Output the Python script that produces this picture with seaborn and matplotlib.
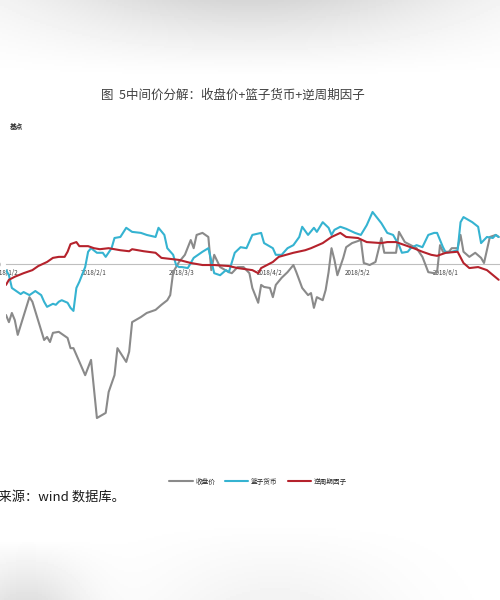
import numpy as np
import pandas as pd
import matplotlib
matplotlib.use("Agg")
import matplotlib.pyplot as plt
import matplotlib.dates as mdates
import seaborn as sns

# data: days since 2018-01-02, value in basis points
start = "2018-01-02"

close_days = [0, 1, 2, 3, 4, 8, 9, 13, 14, 15, 16, 18, 19, 21, 22, 23, 27, 29, 31, 34,
              35, 37, 38, 41, 42, 43, 46, 48, 51, 53, 55, 56, 57, 59, 61, 63, 64, 65, 67, 69,
              70, 71, 73, 76, 77, 79, 81, 83, 84, 86, 87, 88, 90, 91, 92, 94, 96, 98, 99, 101,
              103, 104, 105, 106, 108, 109, 110, 111, 112, 113, 115, 116, 118, 121, 122, 124, 126, 128, 129, 133,
              134, 136, 138, 140, 142, 144, 146, 147, 148, 149, 151, 152, 154, 155, 156, 158, 160, 162, 163, 165,
              167, 168]
close_vals = [-100, -114, -96, -110, -139, -65, -74, -149, -143, -153, -135, -133, -137, -145, -165, -165, -218, -188, -302, -292,
              -251, -218, -165, -192, -172, -114, -104, -96, -90, -80, -71, -61, -16, 4, 18, 47, 31, 57, 61, 53,
              -12, 18, -6, -16, -18, -6, -6, -18, -47, -76, -41, -45, -47, -65, -41, -27, -16, -2, -16, -47,
              -61, -57, -86, -65, -71, -51, -16, 31, 8, -22, 12, 33, 41, 47, 2, -2, 4, 51, 22, 22,
              63, 43, 37, 31, 14, -16, -18, -16, 37, 24, 24, 31, 31, 57, 24, 14, 22, 12, 2, 53,
              57, 53]

basket_days = [0, 1, 2, 4, 5, 6, 8, 10, 12, 13, 14, 16, 17, 18, 19, 21, 22, 23, 24, 25,
               27, 28, 29, 31, 33, 34, 36, 37, 39, 41, 43, 46, 48, 51, 52, 54, 55, 57, 58, 59,
               60, 62, 64, 67, 69, 71, 73, 75, 76, 78, 80, 82, 84, 87, 88, 91, 92, 94, 96, 98,
               100, 101, 103, 105, 106, 108, 110, 111, 112, 114, 116, 119, 121, 123, 125, 128, 130, 132, 134, 135,
               137, 138, 140, 142, 144, 146, 147, 149, 150, 152, 154, 155, 156, 159, 161, 162, 164, 166, 167, 168]
basket_vals = [-12, -22, -47, -55, -59, -55, -61, -53, -61, -74, -84, -78, -80, -74, -71, -76, -86, -92, -47, -35,
               -6, 24, 31, 22, 22, 14, 31, 51, 53, 71, 63, 61, 57, 53, 71, 57, 31, 18, -2, -6,
               -6, -8, 12, 24, 31, -18, -22, -12, -16, 22, 33, 31, 57, 61, 41, 31, 18, 18, 31, 37,
               53, 73, 57, 71, 63, 82, 71, 57, 67, 73, 69, 61, 57, 76, 102, 80, 61, 57, 37, 22,
               24, 31, 37, 33, 57, 61, 61, 33, 22, 24, 27, 82, 92, 82, 73, 41, 53, 51, 57, 53]

ccf_days = [0, 1, 3, 6, 9, 11, 14, 16, 18, 20, 21, 22, 24, 25, 28, 30, 32, 35, 39, 42,
            43, 47, 51, 53, 56, 59, 63, 67, 71, 76, 79, 84, 86, 87, 91, 93, 98, 102, 104, 108,
            111, 114, 116, 120, 123, 128, 130, 133, 135, 139, 142, 145, 147, 150, 154, 156, 158, 161, 164, 168]
ccf_vals = [-41, -31, -25, -18, -12, -4, 4, 12, 14, 14, 24, 39, 43, 35, 35, 31, 29, 31, 27, 25,
            29, 25, 22, 12, 10, 8, 2, -2, -2, -4, -8, -12, -18, -8, 4, 14, 22, 27, 31, 41,
            53, 61, 53, 51, 43, 41, 43, 43, 39, 31, 24, 18, 16, 22, 24, 2, -8, -6, -12, -31]

tick_dates = ["2018-01-02", "2018-02-01", "2018-03-03", "2018-04-02", "2018-05-02", "2018-06-01"]
series_names = ["收盘价", "篮子货币", "逆周期因子"]
series_colors = ["#8a8a8a", "#35b3d1", "#b5222c"]

t0 = pd.Timestamp(start)
frames = []
for name, days, vals in zip(series_names,
                            [close_days, basket_days, ccf_days],
                            [close_vals, basket_vals, ccf_vals]):
    frames.append(pd.DataFrame({"date": t0 + pd.to_timedelta(days, unit="D"),
                                "value": vals, "series": name}))
df = pd.concat(frames, ignore_index=True)

sns.set_style("white")
plt.rcParams["font.family"] = ["Noto Sans CJK SC", "DejaVu Sans"]

W, H = 500, 600
fig = plt.figure(figsize=(W / 100, H / 100), dpi=100)

# faded grey bands of the screenshot (top and bottom)
bg = fig.add_axes([0, 0, 1, 1], zorder=-5)
yy = np.linspace(0, 1, 300)[:, None]
xx = np.linspace(0, 1, 250)[None, :]
top = np.clip((0.13 - yy) / 0.13, 0, 1) ** 1.3 * (0.16 * np.exp(-((xx - 0.5) / 0.45) ** 2))
bot = np.clip((yy - 0.87) / 0.13, 0, 1) * 0.05 * np.exp(-((xx - 0.55) / 0.25) ** 2)
bot += np.clip((yy - 0.9) / 0.1, 0, 1) * 0.12 * np.exp(-((xx - 0.05) / 0.12) ** 2)
shade = 1 - top - bot
bg.imshow(shade, cmap="gray", vmin=0, vmax=1, aspect="auto", extent=[0, 1, 1, 0])
bg.set_axis_off()

# plot area: 2018-01-02 at x=6px, 51px per 100bp, zero at y=264px
ax = fig.add_axes([6 / W, 1 - 468 / H, 522 / W, 357 / H])
ax.patch.set_alpha(0)
sns.lineplot(data=df, x="date", y="value", hue="series", hue_order=series_names,
             palette=series_colors, estimator=None, sort=False, linewidth=1.5, ax=ax)

ax.set_xlim(t0, t0 + pd.Timedelta(days=178))
ax.set_ylim(-400, 300)
ax.set_yticks(np.arange(-400, 301, 100))
ax.tick_params(axis="y", labelsize=5, length=0, pad=4, labelcolor="#8c8c8c")
ax.set_xticks(pd.to_datetime(tick_dates))
ax.xaxis.set_major_formatter(mdates.DateFormatter("%Y/%-m/%-d"))
ax.tick_params(axis="x", labelsize=4.5, length=2, width=0.6, color="#bfbfbf",
               labelcolor="#404040", pad=1.5)
ax.set_xlabel("")
ax.set_ylabel("")
for s in ["left", "right", "top"]:
    ax.spines[s].set_visible(False)
ax.spines["bottom"].set_position(("data", 0))
ax.spines["bottom"].set_color("#bfbfbf")
ax.spines["bottom"].set_linewidth(0.8)
ax.spines["bottom"].set_zorder(0)

ax.legend(loc="upper center", bbox_to_anchor=(252 / 522, -0.01), ncol=3, frameon=False,
          fontsize=4.8, handlelength=3.5, columnspacing=1.5, handletextpad=0.4)

fig.text(233 / W, 1 - 95 / H, "图  5中间价分解：收盘价+篮子货币+逆周期因子",
         ha="center", va="center", fontsize=9, color="#404040")
fig.text(10 / W, 1 - 126 / H, "基点", ha="left", va="center", fontsize=4.8,
         color="#262626", fontweight="bold")
fig.text(-28 / W, 1 - 497 / H, "资料来源：wind 数据库。", ha="left", va="center",
         fontsize=9.5, color="#1a1a1a")

fig.savefig("out.png", dpi=100)
